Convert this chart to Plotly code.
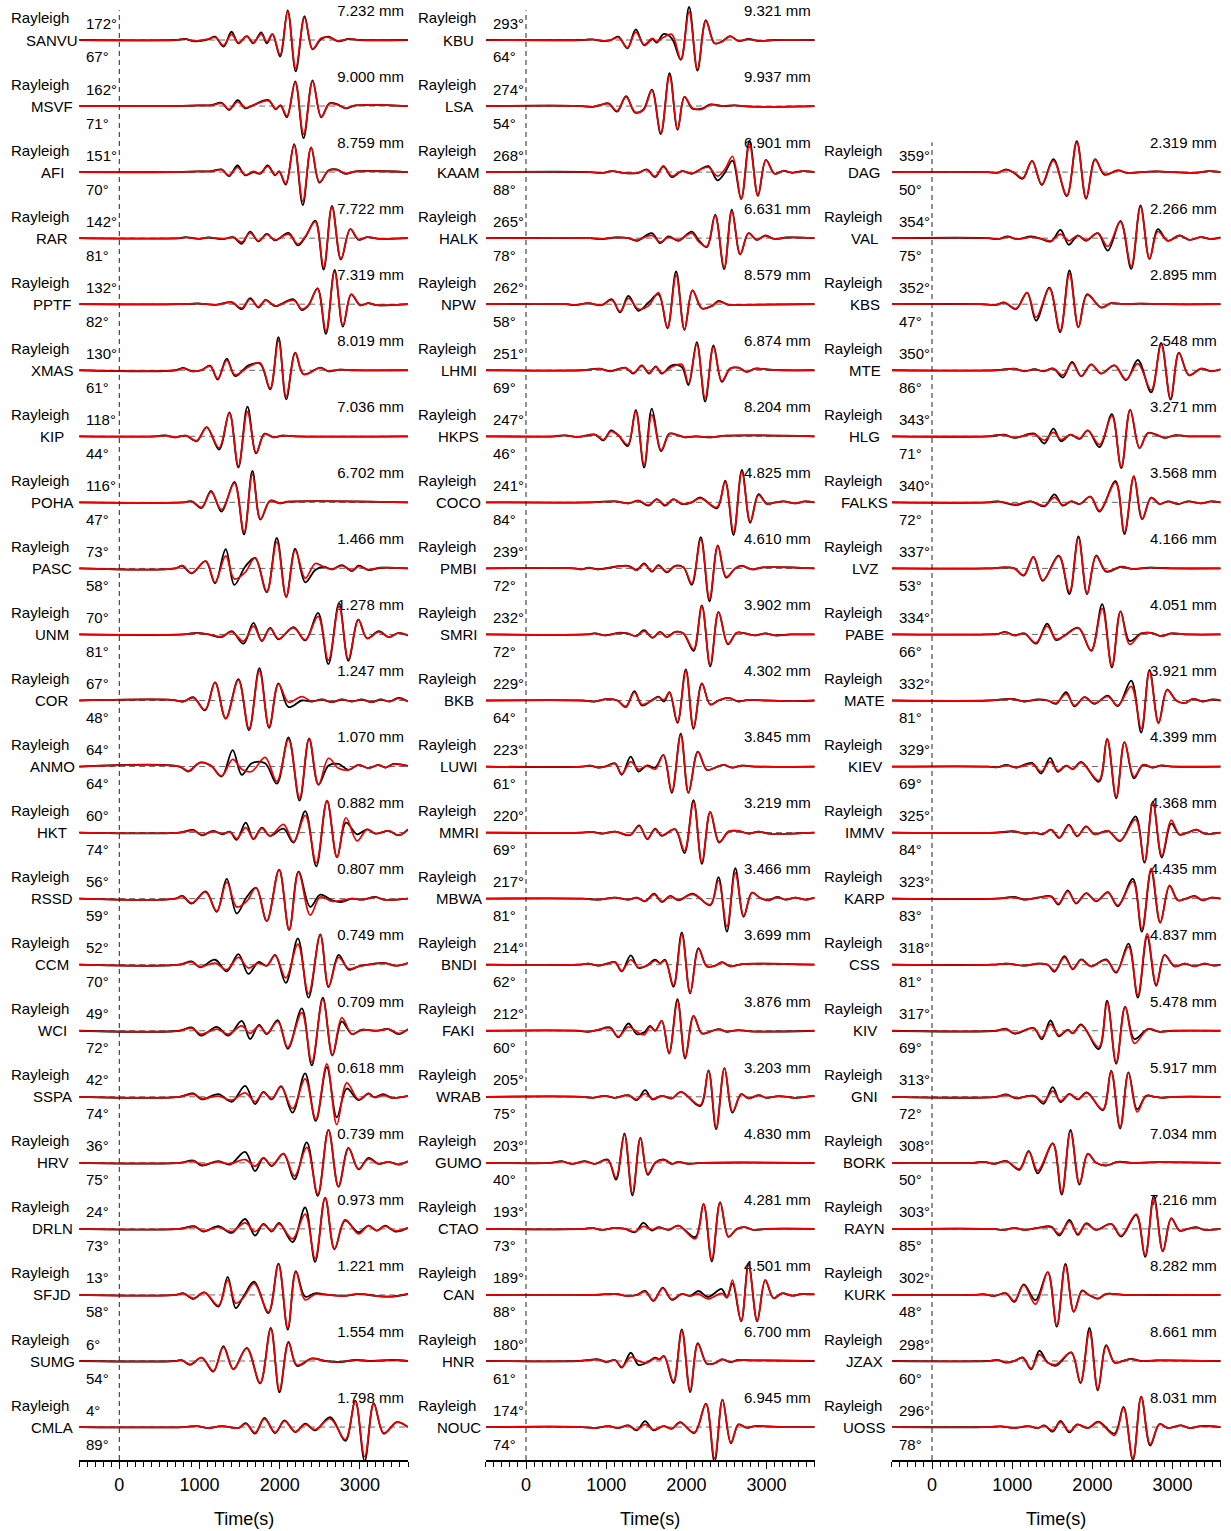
import plotly.graph_objects as go

W, H = 1231, 1531
FONT = "Liberation Sans, Arial, sans-serif"
X_RANGE = [-500, 3600]
MAJOR_TICKS = [0, 1000, 2000, 3000]
MAJOR_LABELS = ["0", "1000", "2000", "3000"]
MINOR_TICKS = list(range(-500, 3601, 100))

# ---------------- station tables ----------------
COL1_STATIONS = ["SANVU", "MSVF", "AFI", "RAR", "PPTF", "XMAS", "KIP", "POHA", "PASC", "UNM", "COR",
                 "ANMO", "HKT", "RSSD", "CCM", "WCI", "SSPA", "HRV", "DRLN", "SFJD", "SUMG", "CMLA"]
COL1_AZIMUTH = [172, 162, 151, 142, 132, 130, 118, 116, 73, 70, 67, 64, 60, 56, 52, 49, 42, 36, 24, 13, 6, 4]
COL1_DISTANCE = [67, 71, 70, 81, 82, 61, 44, 47, 58, 81, 48, 64, 74, 59, 70, 72, 74, 75, 73, 58, 54, 89]
COL1_AMPLITUDE = [7.232, 9.000, 8.759, 7.722, 7.319, 8.019, 7.036, 6.702, 1.466, 1.278, 1.247,
                  1.070, 0.882, 0.807, 0.749, 0.709, 0.618, 0.739, 0.973, 1.221, 1.554, 1.798]

COL2_STATIONS = ["KBU", "LSA", "KAAM", "HALK", "NPW", "LHMI", "HKPS", "COCO", "PMBI", "SMRI", "BKB",
                 "LUWI", "MMRI", "MBWA", "BNDI", "FAKI", "WRAB", "GUMO", "CTAO", "CAN", "HNR", "NOUC"]
COL2_AZIMUTH = [293, 274, 268, 265, 262, 251, 247, 241, 239, 232, 229, 223, 220, 217, 214, 212, 205, 203, 193, 189, 180, 174]
COL2_DISTANCE = [64, 54, 88, 78, 58, 69, 46, 84, 72, 72, 64, 61, 69, 81, 62, 60, 75, 40, 73, 88, 61, 74]
COL2_AMPLITUDE = [9.321, 9.937, 6.901, 6.631, 8.579, 6.874, 8.204, 4.825, 4.610, 3.902, 4.302,
                  3.845, 3.219, 3.466, 3.699, 3.876, 3.203, 4.830, 4.281, 4.501, 6.700, 6.945]

COL3_STATIONS = ["DAG", "VAL", "KBS", "MTE", "HLG", "FALKS", "LVZ", "PABE", "MATE", "KIEV",
                 "IMMV", "KARP", "CSS", "KIV", "GNI", "BORK", "RAYN", "KURK", "JZAX", "UOSS"]
COL3_AZIMUTH = [359, 354, 352, 350, 343, 340, 337, 334, 332, 329, 325, 323, 318, 317, 313, 308, 303, 302, 298, 296]
COL3_DISTANCE = [50, 75, 47, 86, 71, 72, 53, 66, 81, 69, 84, 83, 81, 69, 72, 50, 85, 48, 60, 78]
COL3_AMPLITUDE = [2.319, 2.266, 2.895, 2.548, 3.271, 3.568, 4.166, 4.051, 3.921, 4.399,
                  4.368, 4.435, 4.837, 5.478, 5.917, 7.034, 7.216, 8.282, 8.661, 8.031]
COL3_FIRST_ROW = 2

# ---------------- waveforms: time (s), observed (black), synthetic (red) ----------------
# amplitudes normalised so that 1.0 = half the trace spacing
SANVU_t = [-500, 700, 820, 940, 1110, 1195, 1300, 1400, 1485, 1590, 1670, 1770, 1840, 1910, 2005, 2100, 2200, 2310, 2410, 2515, 2610, 2730, 2860, 3000, 3600]
SANVU_obs = [0, 0, .03, -.04, .02, .10, -.20, .25, -.10, .12, -.10, .23, -.10, .18, -.50, .90, -.95, .72, -.28, .02, .10, -.04, .03, 0, 0]
SANVU_syn = [0, 0, .03, -.03, .03, .08, -.16, .17, -.08, .11, -.08, .18, -.05, .18, -.45, .86, -.86, .68, -.27, .05, .08, -.03, .03, 0, 0]

MSVF_t = [-500, 700, 1000, 1150, 1277, 1369, 1477, 1569, 1673, 1860, 1950, 2010, 2090, 2194, 2298, 2410, 2518, 2619, 2715, 2819, 2950, 3600]
MSVF_obs = [0, 0, .02, .03, .10, -.12, .18, -.07, .03, .18, -.10, .02, -.34, .75, -.97, .78, -.34, .08, .06, -.07, .02, 0]
MSVF_syn = [0, 0, .02, .02, .08, -.10, .13, -.05, .03, .16, -.08, .02, -.30, .72, -.85, .75, -.32, .07, .04, -.06, .02, 0]

AFI_t = [-500, 700, 1000, 1150, 1277, 1369, 1473, 1569, 1673, 1756, 1852, 1943, 1993, 2076, 2180, 2288, 2392, 2496, 2608, 2712, 2817, 2950, 3600]
AFI_obs = [0, 0, .02, .03, .08, -.12, .20, -.10, 0, -.05, .20, -.10, .02, -.38, .85, -1.0, .75, -.32, .05, .08, -.05, .02, 0]
AFI_syn = [0, 0, .02, .02, .07, -.10, .14, -.08, .02, -.04, .17, -.08, .02, -.34, .82, -.88, .75, -.30, .04, .07, -.04, .02, 0]

RAR_t = [-500, 750, 820, 1000, 1110, 1300, 1420, 1527, 1631, 1735, 1839, 1943, 2110, 2227, 2319, 2444, 2548, 2652, 2764, 2880, 2984, 3090, 3250, 3600]
RAR_obs = [0, 0, .03, -.02, .02, -.03, .03, -.17, .20, -.10, .13, -.07, .16, -.22, .03, .53, -.95, .98, -.65, .27, -.05, .03, -.02, 0]
RAR_syn = [0, 0, .02, -.02, .02, -.02, .03, -.12, .16, -.08, .11, -.05, .12, -.18, .05, .50, -.88, .95, -.62, .27, -.04, .03, -.02, 0]

PPTF_t = [-500, 750, 1000, 1200, 1402, 1527, 1631, 1735, 1826, 1943, 2172, 2277, 2360, 2472, 2577, 2685, 2789, 2892, 3004, 3108, 3212, 3600]
PPTF_obs = [0, 0, .02, -.02, .06, -.15, .18, -.10, .13, -.06, .15, -.18, -.03, .48, -.90, 1.04, -.68, .30, -.03, .03, -.03, 0]
PPTF_syn = [0, 0, .02, -.02, .05, -.12, .15, -.08, .12, -.05, .12, -.15, -.02, .48, -.82, .98, -.64, .30, -.03, .03, -.03, 0]

XMAS_t = [-500, 700, 799, 903, 1020, 1132, 1227, 1340, 1444, 1611, 1756, 1881, 1985, 2081, 2194, 2298, 2506, 2610, 2750, 2900, 3600]
XMAS_obs = [0, 0, .07, -.03, 0, .14, -.28, .35, -.18, .15, .20, -.58, 1.0, -.88, .53, -.12, .08, -.03, .02, 0, 0]
XMAS_syn = [0, 0, .06, -.03, 0, .12, -.25, .30, -.14, .10, .22, -.55, .90, -.80, .53, -.12, .07, -.03, .02, 0, 0]

KIP_t = [-500, 450, 570, 695, 830, 965, 1090, 1244, 1373, 1485, 1598, 1706, 1810, 1922, 2030, 2200, 3600]
KIP_obs = [0, 0, .03, -.03, .02, -.15, .28, -.40, .72, -.95, .90, -.52, .08, -.03, .02, 0, 0]
KIP_syn = [0, 0, .02, -.03, .02, -.13, .27, -.35, .70, -.90, .75, -.50, .07, -.03, .02, 0, 0]

POHA_t = [-500, 800, 903, 1027, 1144, 1275, 1435, 1556, 1660, 1760, 1880, 2005, 2110, 3600]
POHA_obs = [0, 0, .03, -.17, .35, -.28, .62, -.97, .95, -.52, .05, -.03, .02, 0]
POHA_syn = [0, 0, .03, -.15, .32, -.22, .58, -.90, .85, -.50, .05, -.03, .02, 0]

PASC_t = [-500, 700, 786, 903, 1077, 1194, 1327, 1435, 1569, 1693, 1839, 1964, 2081, 2194, 2319, 2444, 2548, 2652, 2777, 2902, 2985, 3110, 3250, 3600]
PASC_obs = [0, 0, .08, -.15, .22, -.45, .58, -.50, .05, .32, -.72, .92, -.87, .60, -.42, -.05, .05, -.03, .10, -.08, .08, -.05, .02, 0]
PASC_syn = [0, 0, .08, -.14, .22, -.42, .38, -.32, -.12, .32, -.70, .80, -.85, .55, -.30, .15, .05, -.03, .08, -.06, .06, -.04, .02, 0]

UNM_t = [-500, 800, 965, 1100, 1277, 1402, 1548, 1673, 1777, 1881, 1985, 2172, 2319, 2478, 2607, 2740, 2856, 2981, 3090, 3236, 3360, 3485, 3600]
UNM_obs = [0, 0, .05, .01, -.08, .10, -.28, .35, -.20, .20, -.15, .22, -.18, .65, -.90, .95, -.80, .45, -.12, .10, -.08, .05, -.03]
UNM_syn = [0, 0, .04, .01, -.06, .08, -.20, .25, -.18, .18, -.13, .20, -.16, .55, -.78, .85, -.75, .45, -.12, .08, -.08, .05, -.03]

COR_t = [-500, 650, 800, 923, 1069, 1194, 1327, 1485, 1618, 1747, 1868, 1985, 2110, 2277, 2402, 2525, 2650, 2775, 2900, 3025, 3150, 3260, 3370, 3482, 3600]
COR_obs = [0, .02, -.03, .10, -.30, .55, -.55, .65, -.90, .98, -.83, .52, -.20, 0, -.03, .03, -.05, .03, -.03, .03, -.05, .03, -.03, .08, -.03]
COR_syn = [0, .02, -.03, .08, -.28, .55, -.55, .62, -.85, .90, -.80, .50, -.05, .12, -.03, .03, -.05, .03, -.03, .03, -.05, .03, -.03, .06, -.03]

ANMO_t = [-500, 750, 861, 1007, 1140, 1277, 1414, 1527, 1652, 1818, 1964, 2110, 2248, 2367, 2484, 2610, 2733, 2858, 2983, 3108, 3232, 3320, 3420, 3600]
ANMO_obs = [0, 0, -.15, .12, .03, -.30, .50, -.25, .10, .10, -.52, .88, -1.03, .85, -.55, .03, .08, -.10, .05, -.05, .05, -.03, .08, .02]
ANMO_syn = [0, 0, -.13, .12, .03, -.28, .22, -.08, -.15, .28, -.45, .82, -.95, .85, -.55, .25, -.05, -.10, .05, -.05, .05, -.03, .07, .02]

HKT_t = [-500, 750, 923, 1027, 1173, 1290, 1380, 1464, 1577, 1672, 1777, 1881, 2047, 2172, 2319, 2456, 2590, 2715, 2827, 2965, 3090, 3194, 3360, 3485, 3600]
HKT_obs = [0, 0, .08, -.08, .05, -.05, .03, -.22, .30, -.20, .15, -.10, .12, -.30, .65, -1.02, .97, -.75, .30, -.05, .10, -.03, .05, -.08, .10]
HKT_syn = [0, 0, .06, -.06, .04, -.04, .02, -.18, .15, -.18, .13, -.10, .25, -.28, .52, -.92, .97, -.75, .45, -.25, .10, -.03, .05, -.08, .08]

RSSD_t = [-500, 700, 786, 903, 1077, 1215, 1340, 1464, 1589, 1706, 1839, 1993, 2118, 2235, 2381, 2506, 2652, 2777, 2900, 3027, 3194, 3300, 3600]
RSSD_obs = [0, 0, .08, -.15, .22, -.40, .60, -.45, .05, .33, -.68, .88, -.95, .82, -.25, .12, -.05, -.10, 0, -.03, .05, -.03, 0]
RSSD_syn = [0, 0, .08, -.13, .20, -.38, .50, -.25, -.08, .33, -.68, .88, -.95, .80, -.50, .05, -.08, -.05, 0, -.03, .05, -.03, 0]

CCM_t = [-500, 750, 903, 1007, 1194, 1340, 1485, 1610, 1735, 1840, 1943, 2077, 2227, 2360, 2506, 2610, 2735, 2860, 2985, 3150, 3317, 3442, 3600]
CCM_obs = [0, 0, .10, -.08, .15, -.20, .32, -.28, .08, -.03, .30, -.55, .80, -1.0, .92, -.68, .30, -.15, -.05, .02, .05, -.03, .05]
CCM_syn = [0, 0, .08, -.06, .05, -.15, .22, -.10, .05, -.03, .28, -.40, .62, -.88, .90, -.65, .22, -.12, -.05, .02, .05, -.03, .05]

WCI_t = [-500, 750, 903, 1019, 1215, 1360, 1527, 1631, 1743, 1839, 1976, 2101, 2276, 2400, 2538, 2658, 2775, 2900, 3025, 3200, 3357, 3482, 3600]
WCI_obs = [0, 0, .10, -.15, .12, -.15, .30, -.25, .18, -.10, .32, -.55, .68, -1.05, 1.0, -.75, .28, -.10, .03, 0, .05, -.10, .05]
WCI_syn = [0, 0, .08, -.10, .05, -.10, .15, -.08, .15, -.08, .28, -.50, .55, -.95, .95, -.72, .40, -.10, .03, 0, .05, -.08, .05]

SSPA_t = [-500, 750, 923, 1027, 1236, 1402, 1569, 1693, 1797, 1901, 2018, 2160, 2317, 2450, 2588, 2712, 2837, 2983, 3108, 3180, 3290, 3400, 3600]
SSPA_obs = [0, 0, .10, -.08, .08, -.15, .33, -.22, .15, -.08, .32, -.48, .71, -.73, .90, -.62, .25, -.10, .10, -.02, .08, -.03, .03]
SSPA_syn = [0, 0, .08, -.05, .02, -.10, .12, -.15, .13, -.06, .30, -.36, .54, -.68, 1.0, -.84, .42, -.08, .10, -.02, .05, -.03, .03]

HRV_t = [-500, 750, 923, 1027, 1236, 1381, 1569, 1693, 1797, 1901, 2047, 2184, 2338, 2475, 2608, 2733, 2858, 2983, 3108, 3232, 3360, 3482, 3600]
HRV_obs = [0, 0, .07, -.08, .05, -.05, .33, -.25, .15, -.10, .28, -.50, .62, -1.0, 1.0, -.72, .45, -.20, .15, -.03, .03, -.05, .05]
HRV_syn = [0, 0, .05, -.05, .03, -.03, .10, -.10, .15, -.08, .28, -.40, .47, -.95, 1.0, -.72, .45, -.18, .12, -.03, .03, -.05, .05]

DRLN_t = [-500, 750, 936, 1048, 1236, 1402, 1569, 1693, 1797, 1901, 1993, 2160, 2317, 2442, 2567, 2683, 2816, 2983, 3108, 3210, 3315, 3440, 3600]
DRLN_obs = [0, 0, .08, -.08, .08, -.12, .30, -.20, .15, -.08, .18, -.40, .65, -1.0, .95, -.62, .25, -.10, .10, -.05, .10, -.08, .03]
DRLN_syn = [0, 0, .06, -.06, .05, -.08, .18, -.08, .13, -.06, .15, -.30, .45, -.90, .95, -.60, .28, -.15, .10, -.05, .08, -.06, .03]

SFJD_t = [-500, 700, 799, 923, 1061, 1236, 1352, 1452, 1548, 1681, 1860, 1985, 2101, 2202, 2317, 2442, 2608, 2800, 3000, 3200, 3400, 3600]
SFJD_obs = [0, 0, .05, -.12, .08, -.35, .55, -.40, -.05, .40, -.55, .95, -1.05, .72, -.05, .05, 0, -.03, .03, -.03, -.05, .03]
SFJD_syn = [0, 0, .05, -.10, .08, -.32, .45, -.25, -.08, .35, -.52, .92, -1.0, .70, -.15, .02, 0, -.03, .03, -.03, -.05, .03]

SUMG_t = [-500, 700, 778, 882, 1027, 1173, 1298, 1423, 1589, 1756, 1889, 1997, 2110, 2215, 2402, 2567, 2750, 2950, 3150, 3400, 3600]
SUMG_obs = [0, 0, .03, -.12, .10, -.32, .45, -.25, .40, -.68, 1.0, -.95, .58, -.15, .08, 0, -.03, .03, 0, .03, 0]
SUMG_syn = [0, 0, .03, -.10, .10, -.30, .42, -.25, .38, -.66, .97, -.90, .55, -.12, .07, 0, -.03, .03, 0, .03, 0]

CMLA_t = [-500, 800, 965, 1111, 1277, 1485, 1577, 1693, 1810, 1943, 2060, 2194, 2319, 2440, 2631, 2818, 2943, 3060, 3173, 3298, 3462, 3600]
CMLA_obs = [0, 0, .03, -.03, .03, -.03, .12, -.20, .28, -.18, .20, -.15, .10, -.10, .30, -.42, .80, -1.03, .72, -.20, .15, 0]
CMLA_syn = [0, 0, .03, -.03, .03, -.03, .10, -.17, .25, -.16, .18, -.14, .08, -.08, .25, -.38, .78, -.90, .70, -.18, .15, 0]

KBU_t = [-500, 700, 820, 944, 1050, 1152, 1265, 1369, 1473, 1577, 1631, 1714, 1818, 1930, 2034, 2138, 2243, 2351, 2442, 2546, 2650, 2775, 2900, 3100, 3600]
KBU_obs = [0, 0, .02, -.03, -.01, .10, -.25, .32, -.16, .03, -.08, .18, .05, -.60, 1.0, -.93, .60, -.10, -.05, .12, -.03, .03, -.03, 0, 0]
KBU_syn = [0, 0, .02, -.02, -.01, .08, -.23, .24, -.14, .05, -.05, .08, .17, -.58, .85, -.88, .58, -.10, -.05, .11, -.03, .03, -.03, 0, 0]

LSA_t = [-500, 700, 820, 924, 1030, 1135, 1248, 1360, 1465, 1570, 1681, 1790, 1890, 1976, 2076, 2190, 2300, 2450, 2600, 2800, 3600]
LSA_obs = [0, 0, -.03, .03, .08, -.17, .30, -.20, -.10, .50, -.85, 1.0, -.72, .28, -.08, -.08, .05, 0, .02, -.02, 0]
LSA_syn = [0, 0, -.03, .03, .07, -.15, .28, -.18, -.12, .48, -.82, .92, -.70, .28, -.06, -.10, .04, 0, .02, -.02, 0]

KAAM_t = [-500, 800, 944, 1069, 1236, 1402, 1506, 1610, 1714, 1818, 1943, 2067, 2172, 2276, 2388, 2484, 2575, 2683, 2787, 2892, 2992, 3100, 3210, 3320, 3450, 3600]
KAAM_obs = [0, 0, -.03, .03, -.03, -.02, .08, -.15, .18, -.15, .03, -.05, .08, .18, -.25, .0, .35, -.82, .95, -.72, .37, -.05, .04, -.02, .03, 0]
KAAM_syn = [0, 0, -.03, .03, -.03, -.02, .07, -.13, .16, -.12, .03, -.04, .08, .15, -.12, .10, .48, -.80, .85, -.70, .37, -.05, .04, -.02, .03, 0]

HALK_t = [-500, 800, 944, 1111, 1277, 1381, 1569, 1673, 1777, 1901, 2067, 2151, 2255, 2359, 2471, 2567, 2671, 2775, 2879, 2983, 3108, 3250, 3600]
HALK_obs = [0, 0, -.03, .02, 0, -.08, .15, -.15, .05, -.08, .20, -.05, -.27, .71, -.94, .86, -.49, .15, -.05, .08, -.03, .02, 0]
HALK_syn = [0, 0, -.02, .02, 0, -.06, .08, -.12, .03, -.06, .15, -.10, -.25, .68, -.90, .82, -.49, .15, -.05, .07, -.03, .02, 0]

NPW_t = [-500, 500, 612, 778, 944, 1069, 1173, 1277, 1402, 1527, 1652, 1764, 1872, 1976, 2076, 2194, 2319, 2402, 2525, 2700, 3600]
NPW_obs = [0, 0, -.03, .03, -.03, .15, -.25, .25, -.20, .05, .30, -.73, .99, -.78, .42, -.13, -.05, .10, -.02, -.02, 0]
NPW_syn = [0, 0, -.03, .03, -.03, .13, -.22, .18, -.15, -.05, .35, -.70, .88, -.76, .42, -.12, -.05, .08, -.02, -.02, 0]

LHMI_t = [-500, 700, 820, 924, 1050, 1236, 1340, 1444, 1535, 1618, 1693, 1818, 1943, 2026, 2130, 2234, 2338, 2442, 2546, 2650, 2754, 2858, 2983, 3200, 3600]
LHMI_obs = [0, 0, .03, .05, -.03, .08, -.10, .15, -.10, .12, -.10, .15, .10, -.45, .85, -.95, .75, -.35, .05, .08, -.05, .05, .03, 0, 0]
LHMI_syn = [0, 0, .03, .04, -.03, .07, -.08, .13, -.08, .10, -.08, .10, .18, -.40, .78, -.85, .70, -.32, .05, .08, -.05, .05, .03, 0, 0]

HKPS_t = [-500, 350, 487, 650, 861, 965, 1060, 1152, 1269, 1369, 1473, 1569, 1685, 1789, 1897, 1985, 2110, 2300, 2500, 3600]
HKPS_obs = [0, 0, .03, -.02, .05, -.12, .18, .03, -.30, .80, -.95, .84, -.45, .08, .03, -.03, 0, -.03, .02, 0]
HKPS_syn = [0, 0, .03, -.02, .05, -.10, .15, .03, -.25, .75, -.88, .65, -.42, .08, .03, -.03, 0, -.03, .02, 0]

COCO_t = [-500, 800, 1111, 1277, 1402, 1527, 1631, 1735, 1839, 1943, 2067, 2172, 2380, 2484, 2588, 2692, 2796, 2900, 3004, 3108, 3212, 3360, 3480, 3600]
COCO_obs = [0, 0, .03, -.03, .05, -.10, .10, -.10, .10, -.05, 0, .15, -.18, .66, -.99, .98, -.62, .25, -.05, 0, .03, -.03, .03, 0]
COCO_syn = [0, 0, .03, -.03, .05, -.08, .09, -.08, .09, -.04, 0, .13, -.15, .62, -.90, .92, -.58, .22, -.05, 0, .03, -.03, .03, 0]

PMBI_t = [-500, 600, 695, 778, 903, 1110, 1277, 1381, 1473, 1569, 1652, 1756, 1860, 1964, 2067, 2180, 2288, 2392, 2496, 2608, 2692, 2817, 2950, 3600]
PMBI_obs = [0, 0, -.03, .02, -.03, .05, .08, -.05, .15, -.10, .10, -.12, .08, .03, -.50, .95, -1.0, .70, -.28, 0, .08, -.03, .03, 0]
PMBI_syn = [0, 0, -.03, .02, -.03, .05, .07, -.05, .13, -.08, .08, -.10, .07, .03, -.45, .88, -.92, .68, -.25, 0, .08, -.03, .03, 0]

SMRI_t = [-500, 750, 861, 986, 1152, 1265, 1373, 1473, 1577, 1673, 1756, 1860, 1964, 2089, 2193, 2297, 2401, 2518, 2627, 2730, 2858, 2983, 3108, 3300, 3600]
SMRI_obs = [0, 0, .03, -.03, .05, .03, -.05, .13, -.10, .08, -.08, .08, .03, -.50, .88, -.97, .68, -.30, .05, .03, -.03, .03, -.03, 0, 0]
SMRI_syn = [0, 0, .03, -.03, .04, .03, -.05, .10, -.10, .07, -.08, .08, .03, -.45, .86, -.93, .68, -.28, .05, .03, -.03, .03, -.03, 0, 0]

BKB_t = [-500, 700, 850, 1027, 1140, 1244, 1352, 1444, 1548, 1652, 1720, 1789, 1889, 1993, 2089, 2193, 2297, 2401, 2525, 2650, 2775, 3000, 3357, 3600]
BKB_obs = [0, 0, -.03, .05, 0, -.20, .28, -.15, -.03, .12, -.03, .25, -.68, .94, -.86, .52, -.12, 0, .08, -.03, .02, 0, -.02, 0]
BKB_syn = [0, 0, -.03, .05, 0, -.18, .25, -.12, -.03, .10, .02, .25, -.65, .90, -.82, .52, -.12, 0, .08, -.03, .02, 0, -.02, 0]

LUWI_t = [-500, 700, 799, 903, 986, 1111, 1194, 1306, 1402, 1506, 1610, 1714, 1818, 1930, 2026, 2143, 2255, 2360, 2464, 2568, 2692, 2850, 3600]
LUWI_obs = [0, 0, .03, -.03, 0, .10, -.25, .30, -.15, .03, -.03, .35, -.80, 1.0, -.80, .45, -.10, -.03, .05, -.03, .03, 0, 0]
LUWI_syn = [0, 0, .03, -.03, 0, .08, -.22, .15, -.08, .02, -.08, .35, -.75, .95, -.78, .45, -.10, -.03, .05, -.03, .03, 0, 0]

MMRI_t = [-500, 700, 820, 944, 1111, 1298, 1410, 1514, 1610, 1693, 1860, 1976, 2089, 2193, 2297, 2409, 2525, 2650, 2775, 2900, 3025, 3600]
MMRI_obs = [0, 0, .02, -.03, .03, -.08, .22, -.20, .12, -.10, .10, -.62, .98, -.95, .63, -.30, .03, .05, -.03, .03, -.03, 0]
MMRI_syn = [0, 0, .02, -.03, .03, -.07, .20, -.18, .10, -.08, .10, -.55, .92, -.90, .63, -.28, .03, .05, -.03, .03, -.03, 0]

MBWA_t = [-500, 700, 903, 1111, 1277, 1381, 1485, 1598, 1693, 1797, 1901, 2080, 2297, 2400, 2505, 2610, 2714, 2818, 2922, 3027, 3131, 3235, 3360, 3485, 3600]
MBWA_obs = [0, 0, -.03, .03, -.03, .03, -.08, .15, -.10, .08, -.05, .15, -.20, .65, -1.0, .92, -.55, .18, .02, -.05, .05, -.03, .03, -.03, .03]
MBWA_syn = [0, 0, -.03, .03, -.03, .03, -.07, .12, -.08, .07, -.04, .13, -.18, .55, -.85, .78, -.52, .18, .02, -.05, .05, -.03, .03, -.03, .03]

BNDI_t = [-500, 650, 778, 903, 1007, 1111, 1194, 1306, 1402, 1506, 1610, 1672, 1735, 1839, 1943, 2047, 2151, 2255, 2360, 2443, 2547, 2700, 3600]
BNDI_obs = [0, 0, .03, -.03, .03, .08, -.20, .28, -.10, -.03, .15, .05, .15, -.67, .98, -.87, .50, -.05, -.03, .08, -.05, .02, 0]
BNDI_syn = [0, 0, .03, -.03, .03, .07, -.18, .15, -.08, -.03, .12, .05, .12, -.62, .92, -.85, .48, -.05, -.03, .07, -.05, .02, 0]

FAKI_t = [-500, 650, 778, 903, 1048, 1152, 1277, 1381, 1473, 1548, 1610, 1693, 1785, 1889, 1985, 2089, 2193, 2297, 2401, 2505, 2650, 2800, 3600]
FAKI_obs = [0, 0, -.03, .03, .10, -.20, .22, -.10, -.05, .15, 0, .30, -.69, .96, -.84, .45, -.08, -.03, .05, -.03, .02, -.02, 0]
FAKI_syn = [0, 0, -.03, .03, .08, -.18, .12, -.03, -.12, .12, 0, .30, -.69, .90, -.80, .45, -.08, -.03, .05, -.03, .02, -.02, 0]

WRAB_t = [-500, 700, 820, 986, 1111, 1277, 1381, 1485, 1577, 1693, 1818, 1934, 2172, 2276, 2371, 2475, 2575, 2683, 2775, 2900, 3000, 3150, 3357, 3550, 3600]
WRAB_obs = [0, 0, -.03, .03, -.03, .05, -.10, .20, -.08, .03, -.05, .15, -.28, .80, -.98, .87, -.48, .08, -.05, .05, -.03, .02, -.03, .02, .02]
WRAB_syn = [0, 0, -.03, .03, -.03, .05, -.08, .10, -.06, .03, -.05, .15, -.25, .78, -.95, .87, -.45, .08, -.05, .05, -.03, .02, -.03, .02, .02]

GUMO_t = [-500, 300, 445, 570, 736, 861, 1019, 1123, 1227, 1327, 1427, 1518, 1618, 1726, 1818, 1901, 2026, 2200, 3600]
GUMO_obs = [0, 0, .05, -.03, .05, -.03, .10, -.51, .89, -.99, .76, -.36, .02, .10, -.03, .03, -.03, 0, 0]
GUMO_syn = [0, 0, .04, -.03, .04, -.03, .08, -.45, .85, -.92, .75, -.33, .02, .08, -.03, .03, -.03, 0, 0]

CTAO_t = [-500, 700, 820, 944, 1111, 1236, 1360, 1464, 1569, 1652, 1777, 1901, 2110, 2214, 2317, 2421, 2525, 2630, 2733, 2837, 3000, 3600]
CTAO_obs = [0, 0, .03, -.03, .03, 0, -.10, .18, -.05, .05, -.03, .10, -.25, .76, -.99, .81, -.24, 0, .05, -.03, 0, 0]
CTAO_syn = [0, 0, .03, -.03, .03, 0, -.08, .08, -.02, .05, -.03, .10, -.30, .75, -.92, .80, -.24, 0, .05, -.03, 0, 0]

CAN_t = [-500, 800, 1111, 1277, 1381, 1485, 1589, 1706, 1818, 1943, 2047, 2151, 2270, 2440, 2505, 2575, 2683, 2775, 2883, 2983, 3087, 3191, 3317, 3440, 3600]
CAN_obs = [0, 0, .03, -.03, 0, .12, -.18, .22, -.15, .03, -.03, .12, -.06, .18, -.08, .35, -.80, .95, -.80, .45, -.10, .05, -.02, .03, .02]
CAN_syn = [0, 0, .03, -.03, 0, .10, -.16, .20, -.13, .03, -.03, .03, -.12, .05, -.08, .45, -.78, .90, -.78, .45, -.10, .05, -.02, .03, .02]

HNR_t = [-500, 650, 778, 903, 1007, 1111, 1194, 1306, 1402, 1506, 1610, 1665, 1722, 1839, 1943, 2047, 2143, 2255, 2360, 2443, 2547, 2650, 2850, 3600]
HNR_obs = [0, 0, .03, .05, -.03, .03, -.20, .25, -.12, -.05, .10, .05, .15, -.67, .96, -.94, .54, -.08, -.06, .05, -.03, .03, .02, 0]
HNR_syn = [0, 0, .03, .04, -.03, .03, -.18, .12, 0, -.05, .08, .05, .15, -.62, .92, -.90, .52, -.08, -.06, .05, -.03, .03, .02, 0]

NOUC_t = [-500, 700, 861, 1027, 1152, 1277, 1381, 1485, 1589, 1714, 1818, 1922, 2100, 2243, 2351, 2450, 2555, 2650, 2754, 2858, 3000, 3200, 3600]
NOUC_obs = [0, 0, -.03, .03, -.03, .05, -.10, .18, -.10, .03, -.05, .15, -.18, .71, -1.05, .83, -.49, .08, -.02, .03, .02, 0, 0]
NOUC_syn = [0, 0, -.03, .03, -.03, .05, -.08, .08, -.08, .03, -.05, .13, -.16, .70, -.95, .83, -.47, .08, -.02, .03, .02, 0, 0]

DAG_t = [-500, 700, 820, 924, 1027, 1131, 1248, 1369, 1514, 1681, 1806, 1922, 2034, 2151, 2317, 2442, 2600, 2800, 3000, 3300, 3450, 3600]
DAG_obs = [0, 0, -.02, .08, -.03, -.20, .34, -.39, .39, -.73, .94, -.81, .39, -.08, .05, -.03, 0, .02, 0, -.02, .03, 0]
DAG_syn = [0, 0, -.02, .07, -.03, -.18, .34, -.37, .35, -.70, .90, -.78, .38, -.06, .05, -.03, 0, .02, 0, -.02, .03, 0]

VAL_t = [-500, 700, 820, 944, 1060, 1236, 1360, 1485, 1602, 1706, 1818, 1922, 2067, 2192, 2350, 2484, 2600, 2712, 2816, 2941, 3087, 3212, 3357, 3482, 3600]
VAL_obs = [0, 0, -.03, .05, -.03, .05, -.02, -.10, .25, -.20, .08, -.08, .15, -.38, .52, -.93, .99, -.63, .27, -.08, .08, -.05, .03, -.03, .02]
VAL_syn = [0, 0, -.03, .04, -.03, .03, -.02, -.08, .12, -.08, .08, -.06, .15, -.25, .50, -.85, .95, -.62, .20, -.08, .08, -.05, .03, -.03, .02]

KBS_t = [-500, 600, 800, 903, 1048, 1186, 1298, 1464, 1598, 1714, 1826, 1934, 2110, 2234, 2400, 2600, 2900, 3600]
KBS_obs = [0, 0, -.02, .05, -.15, .35, -.50, .50, -.85, 1.02, -.70, .30, -.10, .03, 0, .02, 0, 0]
KBS_syn = [0, 0, -.02, .05, -.13, .35, -.40, .48, -.80, .92, -.70, .28, -.10, .03, 0, .02, 0, 0]

MTE_t = [-500, 800, 1027, 1152, 1277, 1390, 1514, 1631, 1747, 1860, 1985, 2110, 2276, 2421, 2567, 2733, 2858, 2975, 3079, 3204, 3357, 3482, 3600]
MTE_obs = [0, 0, .05, -.03, .03, -.03, .05, -.22, .25, -.18, .18, -.10, .15, -.30, .31, -.67, .83, -.89, .53, -.15, .05, -.03, .03]
MTE_syn = [0, 0, .04, -.03, .03, -.03, .05, -.15, .22, -.18, .17, -.10, .15, -.28, .20, -.60, .78, -.85, .53, -.15, .05, -.03, .03]

HLG_t = [-500, 700, 903, 1027, 1277, 1402, 1514, 1610, 1727, 1839, 1943, 2089, 2243, 2360, 2471, 2588, 2692, 2817, 2900, 3025, 3200, 3600]
HLG_obs = [0, 0, .05, -.05, .08, -.22, .23, -.15, .05, -.08, .18, -.33, .67, -.96, .81, -.36, .10, .03, -.05, .03, 0, 0]
HLG_syn = [0, 0, .04, -.04, .06, -.12, .12, -.10, .05, -.06, .17, -.25, .62, -.93, .80, -.35, .10, .03, -.05, .03, 0, 0]

FALKS_t = [-500, 700, 820, 1048, 1230, 1402, 1527, 1631, 1735, 1839, 1976, 2089, 2288, 2400, 2517, 2621, 2733, 2837, 2941, 3066, 3191, 3357, 3482, 3600]
FALKS_obs = [0, 0, .03, -.08, .03, -.12, .24, -.10, .03, -.05, .17, -.28, .64, -.96, .79, -.51, .14, -.05, .03, -.05, .03, -.03, .03, 0]
FALKS_syn = [0, 0, .03, -.06, .03, -.10, .15, -.08, .03, -.05, .17, -.25, .60, -.90, .79, -.50, .14, -.05, .03, -.05, .03, -.03, .03, 0]

LVZ_t = [-500, 700, 903, 1027, 1144, 1265, 1381, 1581, 1714, 1826, 1934, 2047, 2172, 2359, 2500, 2700, 3000, 3600]
LVZ_obs = [0, 0, .03, 0, -.22, .35, -.38, .39, -.78, .97, -.78, .39, -.10, .05, -.02, .02, 0, 0]
LVZ_syn = [0, 0, .03, 0, -.20, .35, -.36, .37, -.72, .92, -.75, .37, -.08, .05, -.02, .02, 0, 0]

PABE_t = [-500, 700, 830, 911, 1027, 1152, 1298, 1435, 1548, 1652, 1826, 1985, 2122, 2243, 2351, 2464, 2609, 2733, 2858, 2983, 3200, 3600]
PABE_obs = [0, 0, .02, .08, -.03, .03, -.28, .33, -.17, -.03, .20, -.50, .92, -1.0, .70, -.20, .03, .05, -.05, .03, 0, 0]
PABE_syn = [0, 0, .02, .07, -.03, .03, -.25, .25, -.14, -.05, .20, -.48, .78, -.95, .70, -.30, .03, .05, -.05, .03, 0, 0]

MATE_t = [-500, 700, 861, 1007, 1152, 1319, 1444, 1548, 1673, 1777, 1901, 2026, 2193, 2317, 2484, 2609, 2712, 2825, 2933, 3045, 3150, 3253, 3378, 3500, 3600]
MATE_obs = [0, 0, .03, .05, -.03, .03, 0, -.10, .25, -.18, .10, -.10, .15, -.17, .60, -.97, .93, -.67, .33, 0, -.08, .05, -.03, .03, 0]
MATE_syn = [0, 0, .03, .04, -.03, .03, 0, -.08, .20, -.15, .10, -.08, .12, -.15, .43, -.85, .88, -.70, .33, 0, -.08, .05, -.03, .03, 0]

KIEV_t = [-500, 700, 820, 924, 1050, 1248, 1360, 1473, 1569, 1673, 1756, 1860, 2080, 2184, 2297, 2401, 2518, 2630, 2750, 2850, 3000, 3600]
KIEV_obs = [0, 0, -.02, .05, -.03, .11, -.21, .26, -.16, .03, -.08, .14, -.46, .84, -.96, .74, -.36, .05, -.03, .03, 0, 0]
KIEV_syn = [0, 0, -.02, .04, -.03, .08, -.15, .15, -.12, .03, -.07, .12, -.42, .84, -.92, .74, -.30, .05, -.03, .03, 0, 0]

IMMV_t = [-500, 800, 1027, 1152, 1270, 1381, 1485, 1589, 1706, 1810, 1922, 2026, 2193, 2346, 2538, 2650, 2754, 2866, 2983, 3087, 3190, 3295, 3399, 3600]
IMMV_obs = [0, 0, .04, -.03, 0, -.05, .09, -.16, .24, -.11, .19, -.05, .05, -.26, .49, -.91, .94, -.76, .27, -.06, 0, .09, -.03, 0]
IMMV_syn = [0, 0, .04, -.03, 0, -.04, .08, -.15, .22, -.10, .18, -.05, .05, -.24, .40, -.88, .90, -.70, .38, -.06, 0, .09, -.03, 0]

KARP_t = [-500, 800, 1027, 1152, 1319, 1485, 1577, 1693, 1797, 1922, 2047, 2193, 2317, 2504, 2617, 2733, 2846, 2962, 3066, 3170, 3274, 3378, 3482, 3600]
KARP_obs = [0, 0, .05, -.03, .03, .07, -.18, .25, -.15, .17, -.08, .20, -.23, .60, -1.0, .85, -.73, .39, -.05, 0, .08, -.05, .03, 0]
KARP_syn = [0, 0, .04, -.03, .03, .06, -.15, .22, -.13, .16, -.07, .18, -.20, .52, -.92, .92, -.72, .40, -.05, 0, .07, -.05, .03, 0]

CSS_t = [-500, 750, 930, 1152, 1319, 1444, 1527, 1652, 1756, 1860, 1985, 2172, 2296, 2450, 2567, 2683, 2796, 2900, 3025, 3150, 3274, 3399, 3520, 3600]
CSS_obs = [0, 0, .03, -.03, .03, 0, -.21, .26, -.14, .16, -.05, .16, -.24, .64, -1.0, .85, -.64, .29, -.05, .03, -.05, .03, -.03, 0]
CSS_syn = [0, 0, .03, -.03, .03, 0, -.18, .22, -.12, .15, -.05, .14, -.22, .55, -.92, .94, -.60, .30, -.05, .03, -.05, .03, -.03, 0]

KIV_t = [-500, 800, 924, 1027, 1269, 1369, 1477, 1581, 1693, 1756, 1860, 2080, 2184, 2297, 2409, 2525, 2692, 2837, 3000, 3600]
KIV_obs = [0, 0, .06, -.09, .08, -.26, .31, -.17, .03, -.08, .19, -.56, .91, -1.0, .73, -.25, .05, -.03, 0, 0]
KIV_syn = [0, 0, .05, -.07, .07, -.20, .20, -.14, .03, -.07, .17, -.50, .85, -.95, .73, -.38, .05, -.03, 0, 0]

GNI_t = [-500, 800, 924, 1048, 1152, 1277, 1390, 1506, 1602, 1714, 1818, 1930, 2130, 2234, 2346, 2450, 2558, 2671, 2775, 2879, 3000, 3600]
GNI_obs = [0, 0, .07, -.05, 0, .03, -.21, .29, -.16, .09, -.08, .13, -.41, .79, -.96, .74, -.38, .03, 0, -.03, 0, 0]
GNI_syn = [0, 0, .06, -.04, 0, .03, -.15, .17, -.12, .08, -.07, .12, -.38, .77, -.92, .72, -.46, .03, 0, -.03, 0, 0]

BORK_t = [-500, 500, 653, 778, 924, 1090, 1206, 1319, 1506, 1618, 1727, 1839, 1943, 2047, 2172, 2317, 2500, 2800, 3600]
BORK_obs = [0, 0, .03, -.03, .06, -.21, .36, -.32, .59, -.96, 1.0, -.66, .27, 0, -.08, .03, 0, .02, 0]
BORK_syn = [0, 0, .03, -.03, .05, -.18, .34, -.24, .59, -.90, .95, -.62, .28, 0, -.08, .03, 0, .02, 0]

RAYN_t = [-500, 750, 903, 1027, 1152, 1319, 1485, 1589, 1714, 1818, 1922, 2047, 2234, 2359, 2546, 2658, 2766, 2879, 2983, 3087, 3190, 3295, 3399, 3600]
RAYN_obs = [0, 0, -.03, .03, -.03, .03, .07, -.20, .27, -.18, .17, -.03, .15, -.23, .42, -.85, 1.0, -.68, .32, -.05, 0, .05, -.03, 0]
RAYN_syn = [0, 0, -.03, .03, -.03, .03, .05, -.15, .22, -.15, .15, -.03, .15, -.20, .45, -.80, .92, -.68, .32, -.05, 0, .05, -.03, 0]

KURK_t = [-500, 500, 653, 778, 924, 1027, 1144, 1290, 1444, 1556, 1664, 1768, 1872, 1943, 2067, 2172, 2400, 3000, 3600]
KURK_obs = [0, 0, .02, -.03, .05, -.21, .32, -.16, .69, -.96, .94, -.51, .14, .02, -.11, .03, 0, 0, 0]
KURK_syn = [0, 0, .02, -.03, .05, -.18, .30, -.28, .69, -.92, .90, -.51, .12, .02, -.11, .03, 0, 0, 0]

JZAX_t = [-500, 700, 820, 924, 1027, 1132, 1236, 1340, 1444, 1548, 1735, 1852, 1964, 2068, 2172, 2276, 2380, 2484, 2609, 2800, 3600]
JZAX_obs = [0, 0, .03, -.05, 0, .11, -.25, .31, -.05, -.14, .26, -.67, 1.0, -.89, .48, -.05, 0, .06, 0, .02, 0]
JZAX_syn = [0, 0, .03, -.04, 0, .09, -.22, .20, -.05, -.10, .26, -.64, .90, -.85, .46, -.05, 0, .06, 0, .02, 0]

UOSS_t = [-500, 700, 861, 1027, 1194, 1319, 1402, 1506, 1602, 1714, 1810, 1943, 2076, 2276, 2388, 2505, 2609, 2721, 2837, 2942, 3108, 3212, 3357, 3600]
UOSS_obs = [0, 0, .02, -.03, .03, -.03, .05, -.14, .19, -.16, .08, -.03, .16, -.20, .61, -1.0, .92, -.56, .09, -.03, .05, -.03, .03, 0]
UOSS_syn = [0, 0, .02, -.03, .03, -.03, .04, -.10, .15, -.13, .07, -.03, .15, -.25, .58, -.95, .92, -.52, .09, -.03, .05, -.03, .03, 0]

# ---------------- geometry (pixels) ----------------
ROW0_PX = 40.0          # baseline of the first row
ROW_PX = 66.05          # spacing of rows
AXIS_PX = 1460.0        # bottom axis line
COL_DOMAIN_PX = [(79.2, 408.0), (485.9, 814.7), (891.9, 1220.7)]
COL_SHIFT_PX = [0.0, 406.7, 812.7]
PX_PER_S = 0.0802
AMP_SCALE = 0.5         # row units for an amplitude of 1

Y_TOP = ROW0_PX / ROW_PX
Y_BOTTOM = Y_TOP - AXIS_PX / ROW_PX

columns = [
    dict(st=COL1_STATIONS, az=COL1_AZIMUTH, dist=COL1_DISTANCE, amp=COL1_AMPLITUDE, first=0),
    dict(st=COL2_STATIONS, az=COL2_AZIMUTH, dist=COL2_DISTANCE, amp=COL2_AMPLITUDE, first=0),
    dict(st=COL3_STATIONS, az=COL3_AZIMUTH, dist=COL3_DISTANCE, amp=COL3_AMPLITUDE, first=COL3_FIRST_ROW),
]

fig = go.Figure()
annotations = []
shapes = []


def px_x(px):
    return px / W


def px_y(py):
    return 1 - py / H


for ci, col in enumerate(columns):
    xa = "x" if ci == 0 else f"x{ci + 1}"
    shift = COL_SHIFT_PX[ci]
    rows = [col["first"] + k for k in range(len(col["st"]))]

    # amplitude labels (drawn below the traces)
    amp_x = (404 - 119.3) / PX_PER_S
    fig.add_trace(go.Scatter(
        x=[amp_x] * len(rows), y=[-r + 28 / ROW_PX for r in rows],
        text=[f"{a:.3f} mm" for a in col["amp"]], mode="text",
        textposition="middle left", textfont=dict(size=15, color="black", family=FONT),
        xaxis=xa, yaxis="y", hoverinfo="skip", showlegend=False))

    for k, r in enumerate(rows):
        name = col["st"][k]
        t = globals()[f"{name}_t"]
        obs = globals()[f"{name}_obs"]
        syn = globals()[f"{name}_syn"]
        assert len(t) == len(obs) == len(syn), name
        base_px = ROW0_PX + ROW_PX * r

        # zero line of the trace
        shapes.append(dict(type="line", xref=f"{xa} domain", yref="y", x0=0, x1=1, y0=-r, y1=-r,
                           line=dict(color="#666666", width=1, dash="6px,4px"), layer="below"))

        fig.add_trace(go.Scatter(x=t, y=[-r + AMP_SCALE * v for v in obs], mode="lines",
                                 line=dict(color="black", width=1.8, shape="spline", smoothing=1.0),
                                 xaxis=xa, yaxis="y", hoverinfo="skip", showlegend=False))
        fig.add_trace(go.Scatter(x=t, y=[-r + AMP_SCALE * v for v in syn], mode="lines",
                                 line=dict(color="#ee0000", width=1.7, shape="spline", smoothing=1.0),
                                 xaxis=xa, yaxis="y", hoverinfo="skip", showlegend=False))

        common = dict(xref="paper", yref="paper", showarrow=False, yanchor="middle",
                      font=dict(size=15, color="black", family=FONT))
        annotations.append(dict(text="Rayleigh", x=px_x(40 + shift), y=px_y(base_px - 22), xanchor="center", **common))
        annotations.append(dict(text=name, x=px_x(52 + shift), y=px_y(base_px), xanchor="center", **common))
        annotations.append(dict(text=f"{col['az'][k]}°", x=px_x(84 + shift), y=px_y(base_px - 17), xanchor="left", **common))
        annotations.append(dict(text=f"{col['dist'][k]}°", x=px_x(84 + shift), y=px_y(base_px + 17), xanchor="left", **common))

    # vertical dashed line at t = 0
    shapes.append(dict(type="line", xref=xa, yref="y", x0=0, x1=0, y0=Y_BOTTOM, y1=-col["first"] + 0.45,
                       line=dict(color="#222222", width=1, dash="5px,4px")))

    d0, d1 = COL_DOMAIN_PX[ci]
    annotations.append(dict(text="Time(s)", xref="paper", yref="paper", x=px_x((d0 + d1) / 2), y=px_y(1519),
                            xanchor="center", yanchor="middle", showarrow=False,
                            font=dict(size=18, color="black", family=FONT)))

axis_common = dict(range=X_RANGE, anchor="y", showline=True, linecolor="black", linewidth=2,
                   ticks="outside", ticklen=7, tickwidth=1.3, tickcolor="black",
                   tickmode="array", tickvals=MAJOR_TICKS, ticktext=MAJOR_LABELS,
                   tickfont=dict(size=18, color="black", family=FONT), ticklabelstandoff=0,
                   showgrid=False, zeroline=False, fixedrange=True,
                   minor=dict(tickmode="array", tickvals=MINOR_TICKS, ticks="outside", ticklen=5,
                              tickwidth=1, tickcolor="black", showgrid=False))

layout_axes = {}
for ci in range(3):
    key = "xaxis" if ci == 0 else f"xaxis{ci + 1}"
    d0, d1 = COL_DOMAIN_PX[ci]
    layout_axes[key] = dict(domain=[d0 / W, d1 / W], **axis_common)

fig.update_layout(
    width=W, height=H, margin=dict(l=0, r=0, t=0, b=0),
    paper_bgcolor="white", plot_bgcolor="white", showlegend=False,
    yaxis=dict(domain=[(H - AXIS_PX) / H, 1], range=[Y_BOTTOM, Y_TOP], visible=False, fixedrange=True),
    annotations=annotations, shapes=shapes,
    **layout_axes,
)

fig.write_html("out.html")
